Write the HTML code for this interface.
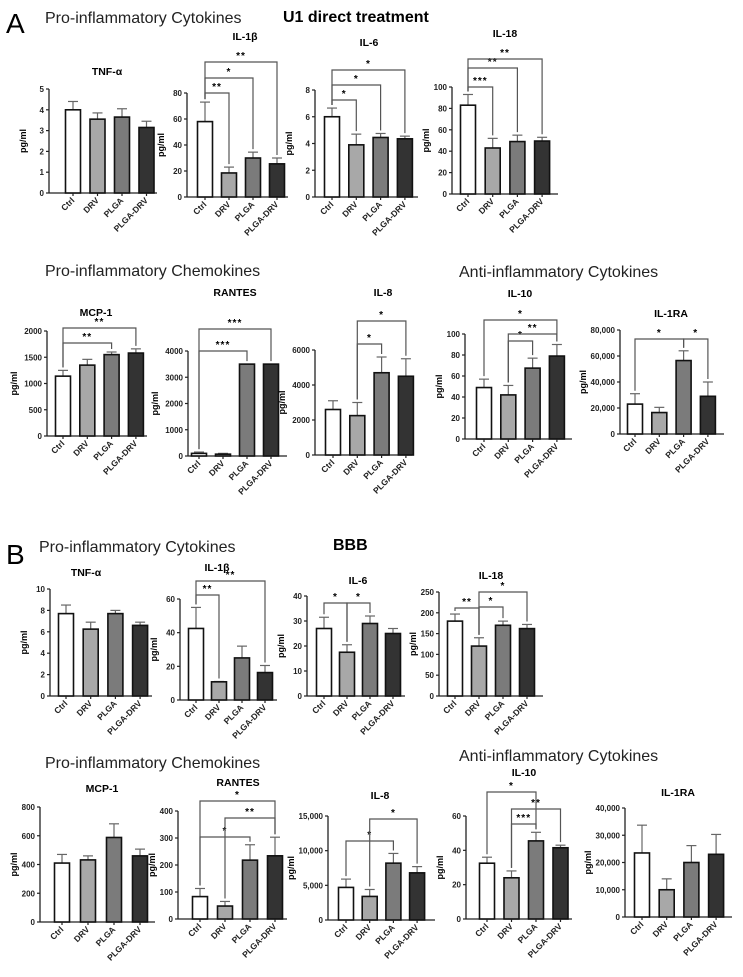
<!DOCTYPE html>
<html><head><meta charset="utf-8"><style>
html,body{margin:0;padding:0;background:#fff;}
svg{display:block;}
text{font-family:"Liberation Sans",Arial,sans-serif;}
</style></head><body>
<svg id="s" width="743" height="977" viewBox="0 0 743 977" xmlns="http://www.w3.org/2000/svg">
<text x="6" y="33" font-size="28">A</text>
<text x="45" y="23" font-size="16" fill="#222">Pro-inflammatory Cytokines</text>
<text x="283" y="22" font-size="16" font-weight="bold">U1 direct treatment</text>
<text x="45" y="276" font-size="16" fill="#222">Pro-inflammatory Chemokines</text>
<text x="459" y="277" font-size="16" fill="#222">Anti-inflammatory Cytokines</text>
<text x="6" y="564" font-size="28">B</text>
<text x="39" y="552" font-size="16" fill="#222">Pro-inflammatory Cytokines</text>
<text x="333" y="550" font-size="16" font-weight="bold">BBB</text>
<text x="45" y="768" font-size="16" fill="#222">Pro-inflammatory Chemokines</text>
<text x="459" y="761" font-size="16" fill="#222">Anti-inflammatory Cytokines</text>
</svg>
<script>
var S=document.getElementById('s'),NS='http://www.w3.org/2000/svg';
function el(t,a,txt){var e=document.createElementNS(NS,t);for(var k in a)e.setAttribute(k,a[k]);if(txt!=null)e.textContent=txt;S.appendChild(e);return e;}
var fills=['#ffffff','#a8a8a8','#7b7b7b','#333333'],cats=['Ctrl','DRV','PLGA','PLGA-DRV'];
function fmt(v,c){return c?v.toLocaleString('en-US'):String(v);}
function chart(c){
 var sc=(c.y0-c.yt)/c.max;function Y(v){return c.y0-v*sc;}function X(i){return c.x0+i*c.dx;}
 var bw=c.bw||15;
 el('text',{x:c.tx,y:c.ty,'font-size':10.5,'font-weight':'bold','text-anchor':'middle'},c.t);
 el('line',{x1:c.ax,y1:c.yt,x2:c.ax,y2:c.y0+0.5,stroke:'#222','stroke-width':1.3});
 el('line',{x1:c.ax,y1:c.y0,x2:c.ae,y2:c.y0,stroke:'#222','stroke-width':1.3});
 for(var v=0;v<=c.max+1e-9;v+=c.step){var y=Y(v);el('line',{x1:c.ax-3,y1:y,x2:c.ax,y2:y,stroke:'#222','stroke-width':1.2});
  el('text',{x:c.ax-5,y:y+3,'font-size':8,'font-weight':'bold','text-anchor':'end',fill:'#222'},fmt(v,c.comma));}
 var my=(c.yt+c.y0)/2,lx=c.ax-(c.comma?34:(String(c.max).length>=4?30:23));
 el('text',{x:lx,y:my,'font-size':9,'font-weight':'bold','text-anchor':'middle',transform:'rotate(-90 '+lx+' '+my+')'},'pg/ml');
 for(var i=0;i<4;i++){var x=X(i),v=c.v[i],e=c.e[i];
  if(e>v){el('line',{x1:x,y1:Y(v),x2:x,y2:Y(e),stroke:'#666','stroke-width':1.2});el('line',{x1:x-5,y1:Y(e),x2:x+5,y2:Y(e),stroke:'#666','stroke-width':1.2});}
  el('rect',{x:x-bw/2,y:Y(v),width:bw,height:c.y0-Y(v),fill:fills[i],stroke:'#111','stroke-width':1.6});
  el('line',{x1:x,y1:c.y0,x2:x,y2:c.y0+3,stroke:'#222','stroke-width':1.2});
  var ty=c.y0+8;el('text',{x:x+2,y:ty,'font-size':8.5,'font-weight':'bold','text-anchor':'end',fill:'#222',transform:'rotate(-45 '+(x+2)+' '+ty+')'},cats[i]);}
 (c.br||[]).forEach(function(b){var i=b[0],j=b[1],ty=b[2],l=b[3];var x1=X(i),x2=X(j);
  var lb=Y(Math.max(c.e[i],c.v[i]))-3,rb=Y(Math.max(c.e[j],c.v[j]))-3;
  el('path',{d:'M'+x1+','+lb+'V'+ty+'H'+x2+'V'+rb,fill:'none',stroke:'#555','stroke-width':1.2});
  el('text',{x:(x1+x2)/2,y:ty-3,'font-size':10,'font-weight':'bold','text-anchor':'middle','letter-spacing':'1'},l);});
}
// Row A1
chart({t:'TNF-α',tx:107,ty:75,ax:49,ae:157,yt:89,y0:193,max:5,step:1,x0:73,dx:24.5,v:[4,3.55,3.65,3.15],e:[4.4,3.85,4.05,3.45]});
chart({t:'IL-1β',tx:245,ty:40,ax:187,ae:288,yt:93,y0:197,max:80,step:20,x0:205,dx:24,v:[58,18.5,30,25.5],e:[73,23,34.5,30],br:[[0,1,93,'**'],[0,2,78,'*'],[0,3,62,'**']]});
chart({t:'IL-6',tx:369,ty:46,ax:315,ae:418,yt:90,y0:197,max:8,step:2,x0:332,dx:24.3,v:[6,3.9,4.45,4.35],e:[6.65,4.7,4.75,4.55],br:[[0,1,100,'*'],[0,2,85,'*'],[0,3,70,'*']]});
chart({t:'IL-18',tx:505,ty:37,ax:452,ae:558,yt:87,y0:194,max:100,step:20,x0:468,dx:24.7,v:[83,43,49,49.5],e:[93,52,55,53],br:[[0,1,87,'***'],[0,2,68,'**'],[0,3,59,'**']]});
// Row A2
chart({t:'MCP-1',tx:96,ty:316,ax:47,ae:147,yt:331,y0:436,max:2000,step:500,x0:63,dx:24.3,v:[1140,1350,1550,1580],e:[1250,1460,1600,1660],br:[[0,2,343,'**'],[0,3,328,'**']]});
chart({t:'RANTES',tx:235,ty:296,ax:188,ae:287,yt:351,y0:456,max:4000,step:1000,x0:199,dx:24,v:[100,70,3500,3500],e:[150,100,3500,3500],br:[[0,2,351,'***'],[0,3,329,'***']]});
chart({t:'IL-8',tx:383,ty:296,ax:315,ae:412,yt:350,y0:455,max:6000,step:2000,x0:333,dx:24.3,v:[2600,2250,4700,4500],e:[3100,3000,5600,5500],br:[[1,2,344,'*'],[1,3,321,'*']]});
chart({t:'IL-10',tx:520,ty:297,ax:465,ae:572,yt:334,y0:439,max:100,step:20,x0:484,dx:24.3,v:[49,42,67.5,79],e:[57,51,77,90],br:[[1,2,341,'*'],[1,3,334,'**'],[0,3,320,'*']]});
chart({t:'IL-1RA',tx:671,ty:317,ax:620,ae:724,yt:330,y0:434,max:80000,step:20000,comma:1,x0:635,dx:24.3,v:[23000,16500,56500,29000],e:[31000,20500,64000,40000],br:[[0,2,339,'*'],[2,3,339,'*']]});
// Row B1
chart({t:'TNF-α',tx:86,ty:576,ax:50,ae:152,yt:589,y0:696,max:10,step:2,x0:66,dx:24.7,v:[7.7,6.25,7.7,6.6],e:[8.5,6.9,8.0,6.9]});
chart({t:'IL-1β',tx:217,ty:571,ax:180,ae:277,yt:599,y0:700,max:60,step:20,x0:196,dx:23,v:[42.5,10.8,25,16.3],e:[55,11,32,20.5],br:[[0,1,595,'**'],[0,3,581,'**']]});
chart({t:'IL-6',tx:358,ty:584,ax:307,ae:405,yt:596,y0:696,max:40,step:10,x0:324,dx:23,v:[27,17.5,29,25],e:[31.5,20.5,32,27],br:[[0,1,603,'*'],[1,2,603,'*']]});
chart({t:'IL-18',tx:491,ty:579,ax:439,ae:543,yt:592,y0:696,max:250,step:50,x0:455,dx:24,v:[180,120,170,162],e:[197,140,180,172],br:[[0,1,608,'**'],[1,2,607,'*'],[1,3,592,'*']]});
// Row B2
chart({t:'MCP-1',tx:102,ty:792,ax:40,ae:155,yt:807,y0:922,max:800,step:200,x0:62,dx:26,v:[410,432,588,460],e:[470,460,683,507]});
chart({t:'RANTES',tx:238,ty:786,ax:178,ae:287,yt:811,y0:919,max:400,step:100,x0:200,dx:25,v:[83,48,218,234],e:[113,65,275,303],br:[[0,2,837,'*'],[1,3,818,'**'],[0,3,801,'*']]});
chart({t:'IL-8',tx:380,ty:799,ax:328,ae:435,yt:816,y0:920,max:15000,step:5000,comma:1,x0:346,dx:23.7,v:[4700,3400,8200,6800],e:[5900,4400,9600,7700],br:[[0,2,841,'*'],[1,3,819,'*']]});
chart({t:'IL-10',tx:524,ty:776,ax:466,ae:572,yt:816,y0:919,max:60,step:20,x0:487,dx:24.5,v:[32.5,24,45.5,41.5],e:[36,28,50.5,43],br:[[1,2,824,'***'],[1,3,809,'**'],[0,2,792,'*']]});
chart({t:'IL-1RA',tx:678,ty:796,ax:625,ae:732,yt:808,y0:917,max:40000,step:10000,comma:1,x0:642,dx:24.7,v:[23500,10000,20000,23000],e:[33700,14000,26200,30300]});
</script>
</body></html>
